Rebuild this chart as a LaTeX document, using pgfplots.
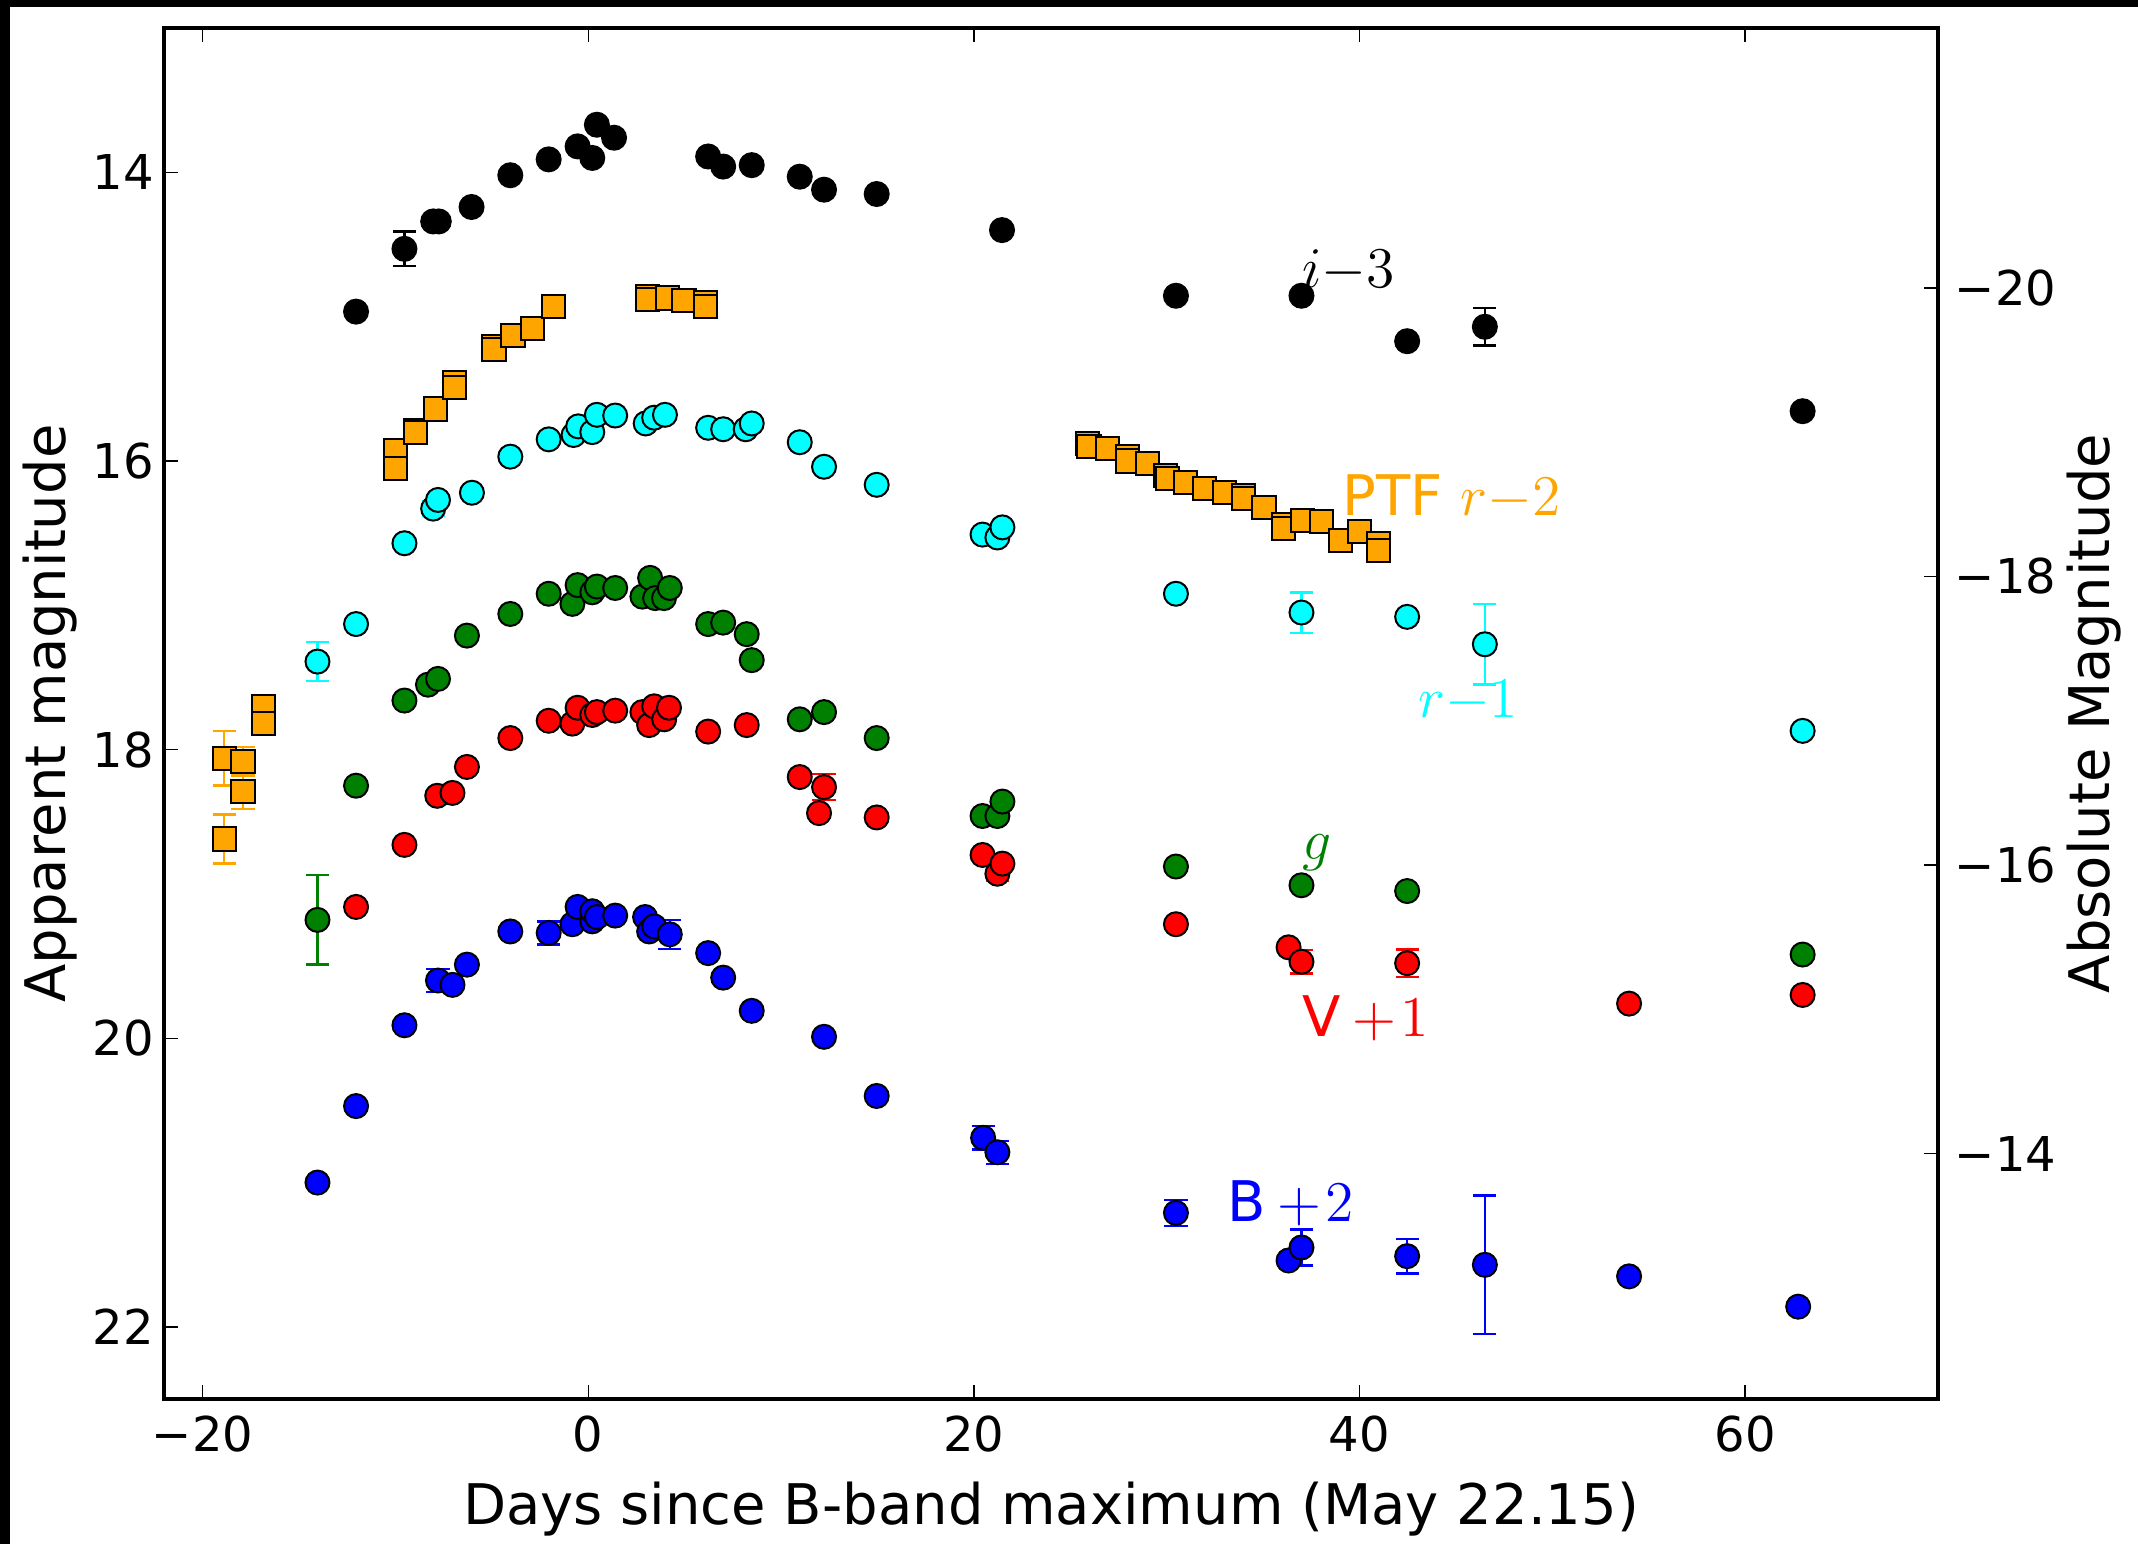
\documentclass[border=0pt]{standalone}
\usepackage[no-math]{fontspec}
\setmainfont{DejaVu Sans}
\usepackage{pgfplots}
\usepackage{pgfplotstable}
\pgfplotsset{compat=1.18}
\definecolor{cB}{rgb}{0,0,1}
\definecolor{cV}{rgb}{1,0,0}
\definecolor{cg}{rgb}{0,0.5,0}
\definecolor{cr}{rgb}{0,1,1}
\definecolor{cptf}{rgb}{1,0.647,0}

\pgfplotstableread{
x y
-12.04 14.965
-9.53 14.53
-8.04 14.34
-7.75 14.34
-6.05 14.24
-4.04 14.02
-2.05 13.91
-0.55 13.82
0.21 13.90
0.45 13.67
1.34 13.76
6.22 13.89
7.00 13.96
8.48 13.95
10.97 14.03
12.23 14.12
14.96 14.15
21.46 14.40
30.48 14.855
36.99 14.855
42.47 15.17
46.50 15.07
62.98 15.655
}\tabI

\pgfplotstableread{
x y
-18.88 18.06
-17.90 18.08
-17.90 18.29
-18.88 18.62
-16.84 17.70
-16.84 17.82
-9.99 15.93
-9.99 16.05
-8.96 15.79
-8.96 15.80
-7.94 15.64
-6.93 15.46
-6.93 15.49
-4.89 15.21
-4.89 15.23
-3.90 15.13
-2.91 15.08
-1.79 14.93
3.07 14.86
3.07 14.88
4.11 14.87
4.97 14.89
6.10 14.90
6.10 14.93
25.90 15.88
25.97 15.90
26.92 15.915
27.96 15.97
27.96 16.00
29.00 16.02
29.95 16.10
30.04 16.12
30.99 16.15
31.94 16.19
32.98 16.22
34.00 16.24
34.00 16.26
35.05 16.32
36.04 16.44
36.04 16.47
37.06 16.41
38.04 16.42
39.03 16.55
40.00 16.49
41.00 16.57
41.00 16.62
}\tabP

\pgfplotstableread{
x y
-14.04 17.39
-12.04 17.13
-9.53 16.57
-8.04 16.33
-7.79 16.27
-6.03 16.22
-4.04 15.97
-2.05 15.85
-0.76 15.82
-0.52 15.76
0.21 15.80
0.45 15.68
1.40 15.685
2.98 15.74
3.42 15.70
3.98 15.68
6.22 15.77
7.00 15.78
8.17 15.78
8.48 15.74
10.97 15.87
12.23 16.04
14.96 16.165
20.45 16.51
21.22 16.53
21.48 16.46
30.48 16.92
36.99 17.05
42.47 17.08
46.50 17.27
62.98 17.87
}\tabR

\pgfplotstableread{
x y
-14.04 19.18
-12.04 18.25
-9.53 17.66
-8.31 17.55
-7.79 17.51
-6.29 17.21
-4.04 17.06
-2.05 16.92
-0.82 16.99
-0.55 16.86
0.21 16.91
0.45 16.87
1.40 16.88
2.81 16.94
3.21 16.81
3.47 16.95
3.93 16.95
4.23 16.88
6.22 17.13
7.00 17.12
8.22 17.20
8.48 17.38
10.97 17.79
12.23 17.74
14.96 17.92
20.45 18.46
21.22 18.46
21.48 18.36
30.48 18.81
36.99 18.94
42.47 18.98
62.98 19.42
}\tabG

\pgfplotstableread{
x y
-12.04 19.09
-9.53 18.66
-7.83 18.32
-7.04 18.30
-6.29 18.12
-4.04 17.92
-2.05 17.80
-0.82 17.82
-0.55 17.71
0.21 17.76
0.45 17.74
1.40 17.73
2.81 17.74
3.16 17.83
3.42 17.70
3.94 17.79
4.19 17.71
6.22 17.875
8.22 17.83
10.97 18.19
11.97 18.44
12.23 18.26
14.96 18.47
20.45 18.73
21.22 18.86
21.48 18.79
30.48 19.21
36.32 19.37
36.99 19.47
42.47 19.48
53.98 19.76
62.98 19.70
}\tabV

\pgfplotstableread{
x y
-14.04 21.00
-12.04 20.47
-9.53 19.91
-7.79 19.60
-7.04 19.63
-6.29 19.49
-4.04 19.26
-2.05 19.27
-0.82 19.21
-0.55 19.09
0.21 19.19
0.21 19.12
0.45 19.16
1.40 19.15
2.95 19.16
3.16 19.26
3.42 19.225
4.23 19.28
6.22 19.41
7.00 19.58
8.48 19.81
12.23 19.99
14.96 20.40
20.48 20.69
21.22 20.79
30.48 21.21
36.32 21.54
36.99 21.45
42.47 21.51
46.50 21.57
53.98 21.65
62.75 21.86
}\tabB

\pgfplotsset{
  errstyle/.style={forget plot, draw=none, mark=none,
    error bars/.cd, y dir=both, y explicit,
    error bar style={draw=#1, line width=0.6pt},
    error mark options={draw=#1, rotate=90, mark size=2.9pt, line width=0.6pt}},
  cmark/.style={only marks, mark=*, mark size=3.0pt,
    mark options={fill=#1, draw=black, line width=0.5pt}},
  smark/.style={only marks, mark=square*, mark size=2.9pt,
    mark options={fill=#1, draw=black, line width=0.5pt}},
}

\begin{document}
\begin{tikzpicture}
\path[use as bounding box] (0,0) rectangle (534.5pt,386pt);
\fill[white] (0,0) rectangle (534.5pt,386pt);
\fill[black] (0,384.25pt) rectangle (534.5pt,386pt);
\fill[black] (0,0) rectangle (2.5pt,386pt);

\begin{axis}[
  at={(41pt,36.25pt)}, anchor=south west,
  scale only axis, width=443.5pt, height=342.75pt,
  xmin=-22, xmax=70, ymin=13, ymax=22.5, y dir=reverse,
  xtick={-20,0,20,40,60},
  xticklabels={\mbox{−20},\mbox{0},\mbox{20},\mbox{40},\mbox{60}},
  ytick={14,16,18,20,22},
  yticklabels={\mbox{14},\mbox{16},\mbox{18},\mbox{20},\mbox{22}},
  minor tick num=0,
  tick align=inside, ytick pos=left, xtick pos=both,
  major tick length=3.5pt,
  every tick/.style={black, line width=0.35pt},
  axis line style={line width=1pt},
  xticklabel style={font=\fontsize{12}{14}\selectfont, inner sep=0pt, anchor=north, yshift=-4pt},
  yticklabel style={font=\fontsize{12}{14}\selectfont, inner sep=0pt, anchor=east, xshift=-2.4pt},
  clip=false,
]
% error bars
\addplot[errstyle=black] coordinates {(-9.53,14.53) +- (0,0.12) (-8.04,14.34) +- (0,0.03) (46.5,15.07) +- (0,0.13)};
\addplot[errstyle=cptf] coordinates {(-18.88,18.06) +- (0,0.19) (-17.9,18.08) +- (0,0.10) (-17.9,18.29) +- (0,0.12) (-18.88,18.62) +- (0,0.17) (-16.84,17.70) +- (0,0.04)};
\addplot[errstyle=cr] coordinates {(-14.04,17.39) +- (0,0.135) (-8.04,16.33) +- (0,0.05) (-7.79,16.27) +- (0,0.03) (8.17,15.78) +- (0,0.03) (36.99,17.05) +- (0,0.14) (46.5,17.27) +- (0,0.28)};
\addplot[errstyle=cg] coordinates {(-14.04,19.18) +- (0,0.31) (42.47,18.98) +- (0,0.03)};
\addplot[errstyle=cV] coordinates {(12.23,18.26) +- (0,0.09) (20.45,18.73) +- (0,0.03) (21.22,18.86) +- (0,0.05) (21.48,18.79) +- (0,0.03) (36.99,19.47) +- (0,0.08) (42.47,19.48) +- (0,0.095)};
\addplot[errstyle=cB] coordinates {(-7.79,19.60) +- (0,0.08) (-2.05,19.27) +- (0,0.08) (4.23,19.28) +- (0,0.1) (12.23,19.99) +- (0,0.02) (20.48,20.69) +- (0,0.08) (21.22,20.79) +- (0,0.08) (30.48,21.21) +- (0,0.09) (36.99,21.45) +- (0,0.125) (42.47,21.51) +- (0,0.12) (46.5,21.57) +- (0,0.48)};
% markers
\addplot[cmark=cB] table {\tabB};
\addplot[cmark=cV] table {\tabV};
\addplot[cmark=cg] table {\tabG};
\addplot[cmark=cr] table {\tabR};
\addplot[cmark=black] table {\tabI};
\addplot[smark=cptf] table {\tabP};
% labels
\node[anchor=base west, inner sep=0pt, font=\fontsize{14}{16}\selectfont, text=black] at (axis cs:37,14.8) {$i{-}3$};
\node[anchor=base west, inner sep=0pt, font=\fontsize{14}{16}\selectfont, text=cptf] at (axis cs:39.1,16.38) {PTF $r{-}2$};
\node[anchor=base west, inner sep=0pt, font=\fontsize{14}{16}\selectfont, text=cr] at (axis cs:43,17.78) {$r{-}1$};
\node[anchor=base west, inner sep=0pt, font=\fontsize{14}{16}\selectfont, text=cg] at (axis cs:37,18.76) {$g$};
\node[anchor=base west, inner sep=0pt, font=\fontsize{14}{16}\selectfont, text=cV] at (axis cs:37,19.99) {V\hspace{3pt}$+\hspace{1pt}1$};
\node[anchor=base west, inner sep=0pt, font=\fontsize{14}{16}\selectfont, text=cB] at (axis cs:33.1,21.27) {B\hspace{3pt}$+\hspace{1pt}2$};
\end{axis}

\begin{axis}[
  at={(41pt,36.25pt)}, anchor=south west,
  scale only axis, width=443.5pt, height=342.75pt,
  xmin=-22, xmax=70, ymin=-21.8, ymax=-12.3, y dir=reverse,
  axis x line=none, axis y line*=right,
  ytick={-20,-18,-16,-14},
  yticklabels={\mbox{−20},\mbox{−18},\mbox{−16},\mbox{−14}},
  minor tick num=0,
  tick align=inside,
  major tick length=3.5pt,
  every tick/.style={black, line width=0.35pt},
  axis line style={line width=1pt},
  yticklabel style={font=\fontsize{12}{14}\selectfont, inner sep=0pt, anchor=west, xshift=4pt},
]
\end{axis}

\node[anchor=base, inner sep=0pt, font=\fontsize{14}{16}\selectfont] at (262.75pt,4.9pt) {Days since B-band maximum (May 22.15)};
\node[anchor=base, rotate=90, inner sep=0pt, font=\fontsize{14}{16}\selectfont] at (16.25pt,207.6pt) {Apparent magnitude};
\node[anchor=base, rotate=90, inner sep=0pt, font=\fontsize{14}{16}\selectfont] at (527.4pt,207.6pt) {Absolute Magnitude};
\end{tikzpicture}
\end{document}
